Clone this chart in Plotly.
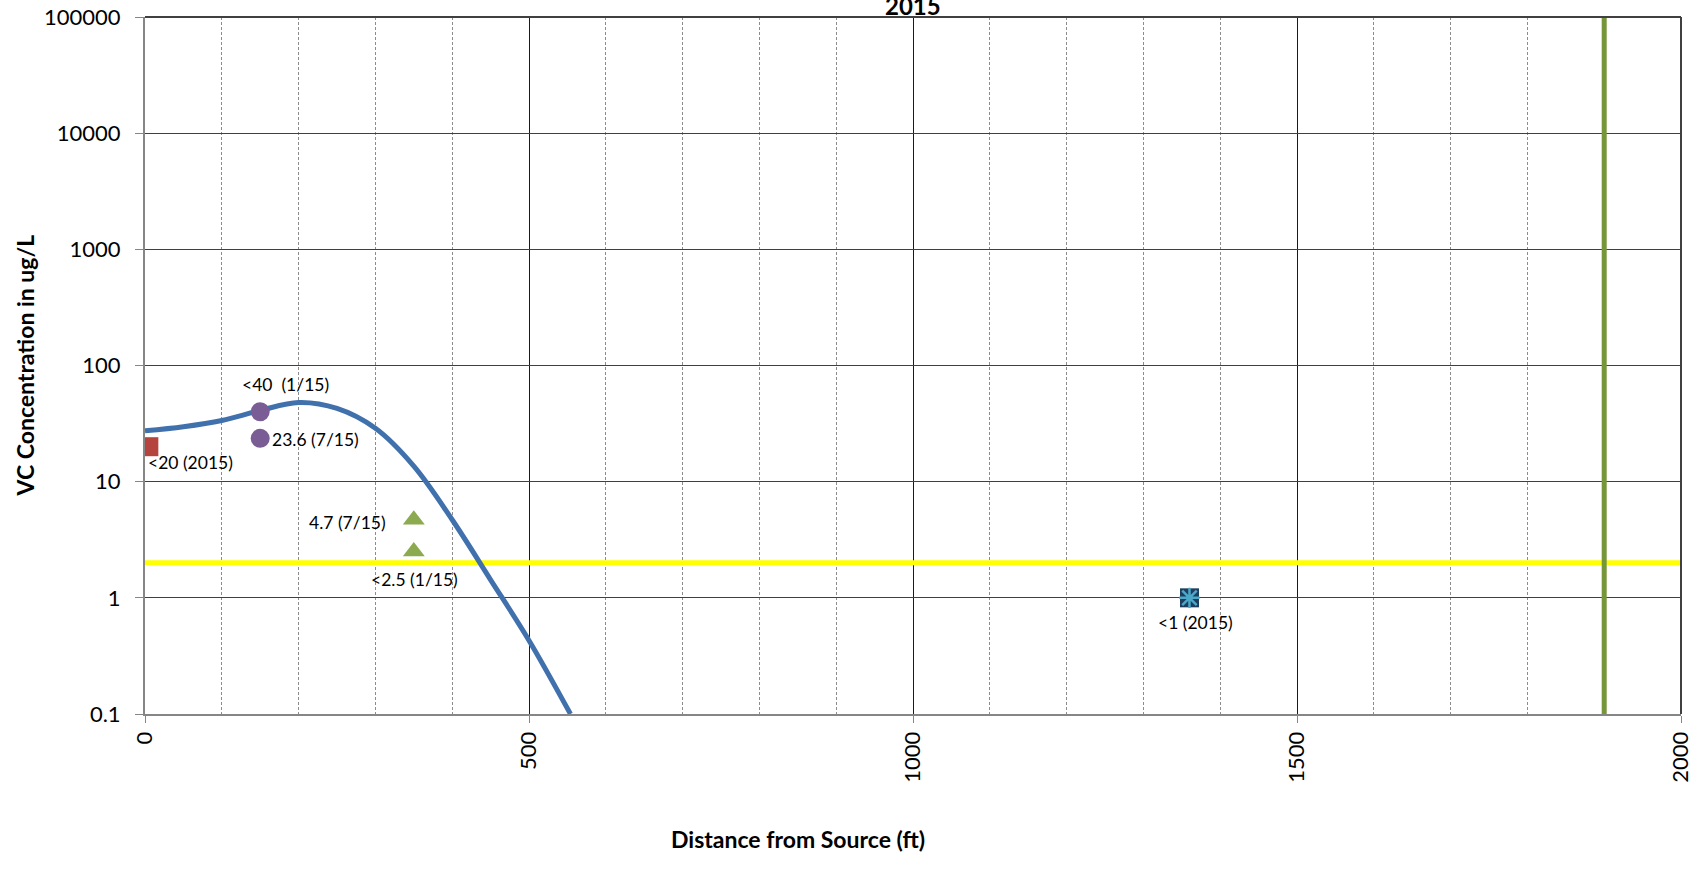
import math
import plotly.graph_objects as go

# Fitted VC concentration profile (ft, ug/L)
curve_x = [0, 50, 100, 150, 200, 250, 300, 350, 400, 450, 500, 554]
curve_y = [27.4, 29.7, 33.6, 41, 48, 42.7, 28.8, 13.6, 4.7, 1.43, 0.43, 0.1]

# Monitoring wells
well_src_x = [5]
well_src_y = [20]
well_a_x = [150, 150]
well_a_y = [40, 23.6]
well_b_x = [350, 350]
well_b_y = [4.7, 2.5]
well_far_x = [1360]
well_far_y = [1]

# Reference lines
mcl_value = 2
boundary_x = 1900

y_ticks = [0.1, 1, 10, 100, 1000, 10000, 100000]
y_tick_text = ["0.1", "1", "10", "100", "1000", "10000", "100000"]
x_ticks = [0, 500, 1000, 1500, 2000]
x_tick_text = ["0", "500", "1000", "1500", "2000"]

label_text = ["<20 (2015)", "<40  (1/15)", "23.6 (7/15)", "4.7 (7/15)", "<2.5 (1/15)", "<1 (2015)"]
label_x = [well_src_x[0], well_a_x[0], well_a_x[1], well_b_x[0], well_b_x[1], well_far_x[0]]
label_y = [well_src_y[0], well_a_y[0], well_a_y[1], well_b_y[0], well_b_y[1], well_far_y[0]]

FONT = "Lato"

fig = go.Figure()

fig.add_trace(go.Scatter(x=[0, 2000], y=[mcl_value, mcl_value], mode="lines",
                         line=dict(color="#FFFF00", width=5), hoverinfo="skip"))
fig.add_trace(go.Scatter(x=[boundary_x, boundary_x], y=[0.1, 100000], mode="lines",
                         line=dict(color="#77963A", width=5), hoverinfo="skip"))
fig.add_trace(go.Scatter(x=curve_x, y=curve_y, mode="lines",
                         line=dict(color="#4071AD", width=5, shape="spline", smoothing=1.0)))
fig.add_trace(go.Scatter(x=well_src_x, y=well_src_y, mode="markers",
                         marker=dict(symbol="square", size=19, color="#B5443F")))
fig.add_trace(go.Scatter(x=well_a_x, y=well_a_y, mode="markers",
                         marker=dict(symbol="circle", size=19, color="#7A5D95")))
fig.add_trace(go.Scatter(x=well_b_x, y=well_b_y, mode="markers",
                         marker=dict(symbol="triangle-up", size=19, color="#8CAA4F")))
fig.add_trace(go.Scatter(x=well_far_x, y=well_far_y, mode="markers",
                         marker=dict(symbol="square", size=19, color="#1F3E5E")))
fig.add_trace(go.Scatter(x=well_far_x, y=well_far_y, mode="markers",
                         marker=dict(symbol="asterisk-open", size=17, color="#4BA8C8",
                                     line=dict(color="#4BA8C8", width=2.5))))

# Label placement (pixel offsets from each point)
label_style = [
    dict(xanchor="left", yanchor="middle", xshift=-3, yshift=-16),
    dict(xanchor="center", yanchor="middle", xshift=25, yshift=27),
    dict(xanchor="left", yanchor="middle", xshift=10, yshift=-1),
    dict(xanchor="right", yanchor="middle", xshift=-26, yshift=-3),
    dict(xanchor="center", yanchor="middle", xshift=1, yshift=-28),
    dict(xanchor="center", yanchor="middle", xshift=6, yshift=-25),
]
for t, lx, ly, st in zip(label_text, label_x, label_y, label_style):
    fig.add_annotation(x=lx, y=math.log10(ly), text=t, showarrow=False,
                       font=dict(family=FONT, size=17.5, color="#000000"), **st)

# Chart title (sits above the plot area)
fig.add_annotation(xref="paper", yref="paper", x=0.5, y=1, yanchor="bottom", yshift=-5,
                   text="<b>2015</b>", showarrow=False,
                   font=dict(family=FONT, size=24, color="#000000"))

# Axis titles
fig.add_annotation(xref="paper", yref="paper", x=(798 - 145) / 1536, y=0, yshift=-125,
                   yanchor="middle", text="<b>Distance from Source (ft)</b>", showarrow=False,
                   font=dict(family=FONT, size=23, color="#000000"))
fig.add_annotation(xref="paper", yref="paper", x=0, xshift=-121, y=0.5, textangle=-90,
                   xanchor="center", text="<b>VC Concentration in ug/L</b>", showarrow=False,
                   font=dict(family=FONT, size=23, color="#000000"))

# Plot-area border on top and right
fig.add_shape(type="line", xref="paper", yref="paper", x0=0, x1=1, y0=1, y1=1,
              line=dict(color="#404040", width=2))
fig.add_shape(type="line", xref="paper", yref="paper", x0=1, x1=1, y0=0, y1=1,
              line=dict(color="#404040", width=2))

fig.update_layout(
    width=1701, height=886, autosize=False,
    margin=dict(l=145, r=20, t=17, b=172),
    paper_bgcolor="white", plot_bgcolor="white",
    showlegend=False,
    font=dict(family=FONT, size=22, color="#000000"),
    xaxis=dict(
        range=[0, 2000], tickvals=x_ticks, ticktext=x_tick_text, tickangle=-90,
        showgrid=True, gridcolor="#1a1a1a", gridwidth=1,
        minor=dict(dtick=100, showgrid=True, gridcolor="#8c8c8c", griddash="3px,2px", gridwidth=1),
        showline=True, linecolor="#868686", linewidth=2,
        ticks="outside", ticklen=7, tickcolor="#868686",
        zeroline=False, automargin=False, tickfont=dict(family=FONT, size=22),
    ),
    yaxis=dict(
        type="log", range=[-1, 5], tickvals=y_ticks, ticktext=y_tick_text,
        showgrid=True, gridcolor="#404040", gridwidth=1,
        showline=True, linecolor="#868686", linewidth=2,
        ticks="outside", ticklen=8, tickcolor="#868686",
        ticklabelstandoff=10,
        zeroline=False, automargin=False, tickfont=dict(family=FONT, size=22),
    ),
)

fig.write_html("out.html")
